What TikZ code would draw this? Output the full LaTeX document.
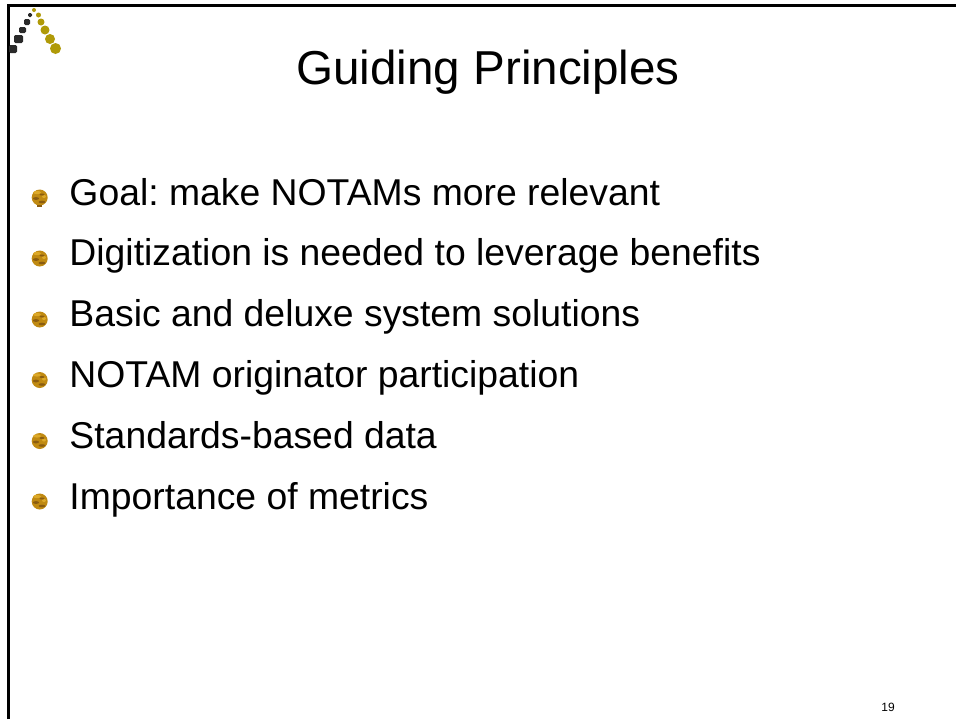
\documentclass[tikz,border=0pt]{standalone}
\usepackage{fontspec}
\setmainfont{Liberation Sans}
\definecolor{ballc}{HTML}{C08A12}
\definecolor{balld}{HTML}{8A5C10}
\definecolor{balll}{HTML}{DDA928}
\definecolor{oliv}{HTML}{B09A08}
\definecolor{dk}{HTML}{2A2A2A}
\tikzset{x=0.75pt,y=-0.75pt,
  bodytext/.style={anchor=base west,inner sep=0pt,font=\fontsize{28pt}{32pt}\selectfont},
  ball/.style={circle,inner sep=0pt,minimum size=12pt,fill=ballc},
  darkdot/.style={fill=dk,rounded corners=1pt}}
\newcommand{\bulletball}[2]{%
  \node[ball] (#1) at (39.7,#2) {};
  \fill[balll] (37,#2-5) ellipse (4 and 1.6);
  \fill[balll] (44,#2-1) ellipse (2 and 1.5);
  \fill[balld] (36,#2+1) ellipse (3 and 1.4);
  \fill[balld] (42,#2+4.5) ellipse (3.5 and 1.3);
  \fill[balld] (42,#2-3) ellipse (2.5 and 1);
}
\begin{document}
\frenchspacing
\begin{tikzpicture}
\useasboundingbox (0,0) rectangle (956,719);
\fill[white] (0,0) rectangle (956,719);
\draw[black,line width=1.9pt] (8.5,719) -- (8.5,5.5) -- (956,5.5);
% logo
\fill[darkdot] (9,45) rectangle (17,53);
\fill[darkdot] (14,35) rectangle (23,43);
\fill[darkdot] (19,27) rectangle (26,33);
\fill[darkdot] (24,19) rectangle (30,25);
\fill[darkdot] (28,13) rectangle (32,17);
\fill[oliv] (34,10) circle (2);
\fill[oliv] (38.5,15) circle (2.5);
\fill[oliv] (41,22) circle (3.5);
\fill[oliv] (45,30) circle (4.5);
\fill[oliv] (50,39) circle (5);
\fill[oliv] (55.5,48.5) circle (5.5);
\node[anchor=base,inner sep=0pt,font=\fontsize{35.7pt}{40pt}\selectfont] (title) at (488,84) {Guiding Principles};
\bulletball{b1}{197.5}
\bulletball{b2}{258.5}
\bulletball{b3}{319.5}
\bulletball{b4}{380}
\bulletball{b5}{441}
\bulletball{b6}{501.5}
\fill[balld] (37,205) rectangle (42,207);
\node[bodytext] (t1) at (69.2,205) {Goal: make NOTAMs more relevant};
\node[bodytext] (t2) at (69.2,265.8) {Digitization is needed to leverage benefits};
\node[bodytext] (t3) at (69.2,326.6) {Basic and deluxe system solutions};
\node[bodytext] (t4) at (69.2,387.4) {NOTAM originator participation};
\node[bodytext] (t5) at (69.2,448.2) {Standards-based data};
\node[bodytext] (t6) at (69.2,509) {Importance of metrics};
\node[anchor=base,inner sep=0pt,font=\fontsize{9pt}{10pt}\selectfont] (pg) at (888,711) {19};
\end{tikzpicture}
\end{document}
